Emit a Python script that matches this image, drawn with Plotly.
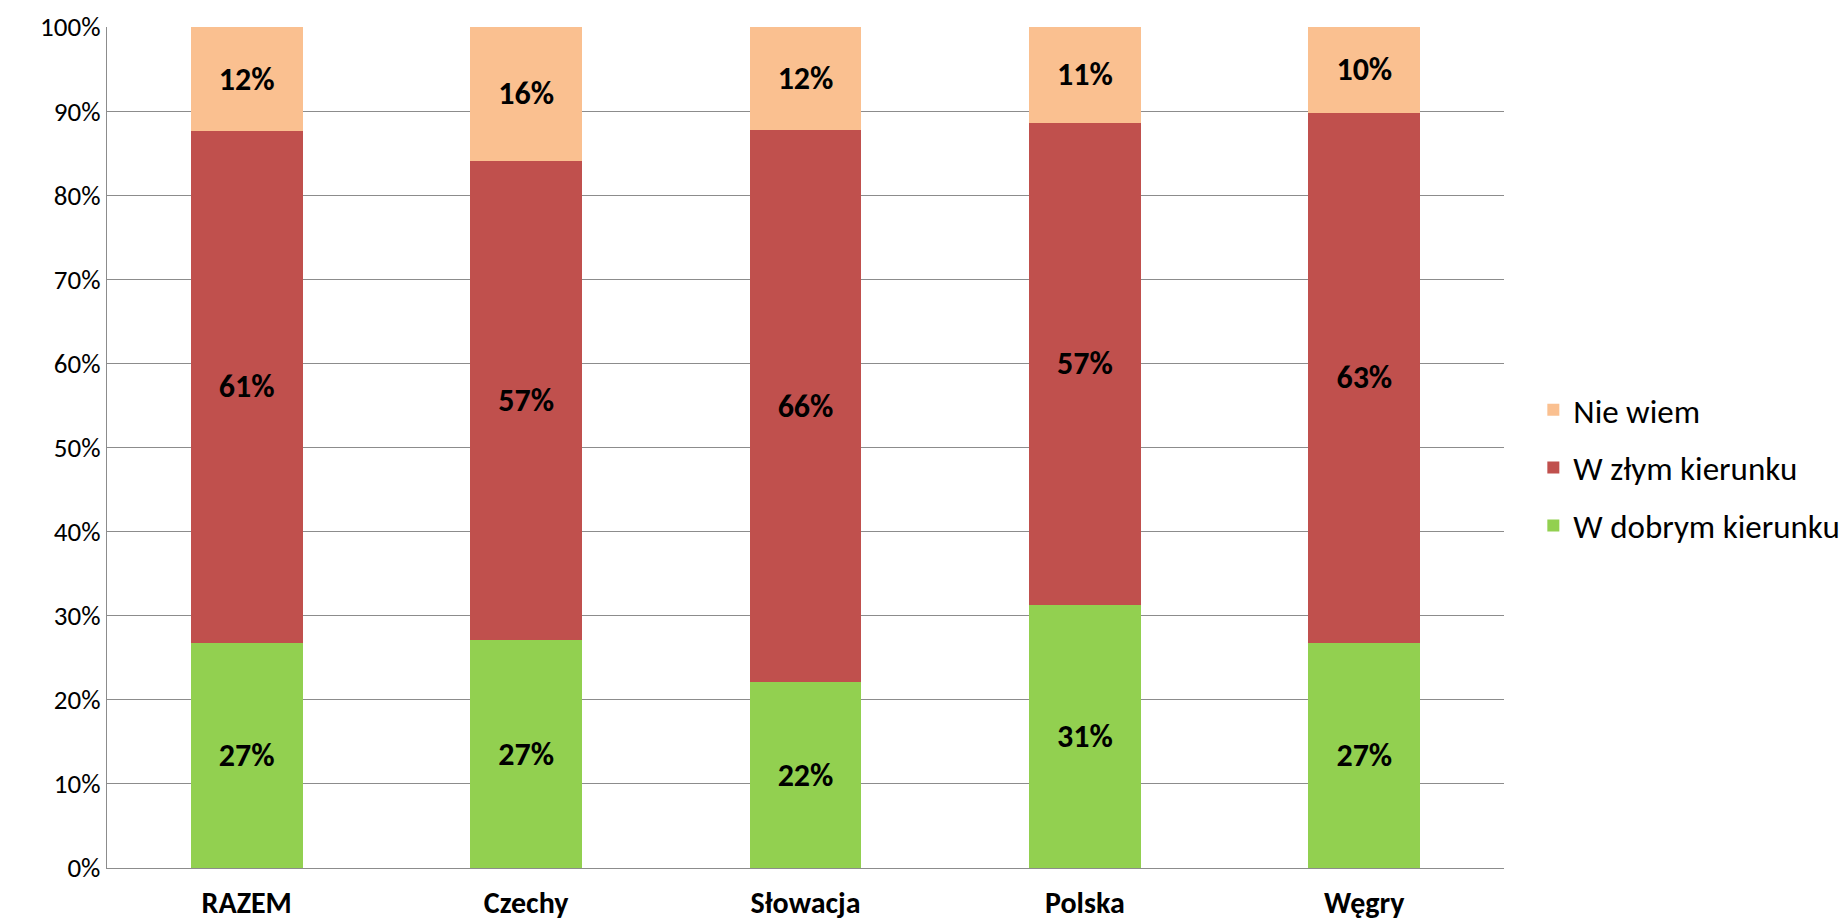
import plotly.graph_objects as go

categories = ["RAZEM", "Czechy", "Słowacja", "Polska", "Węgry"]
dobry = [26.8, 27.1, 22.1, 31.3, 26.8]
zly = [60.8, 57.0, 65.6, 57.3, 63.0]
nie_wiem = [12.4, 15.9, 12.3, 11.4, 10.2]
y_ticks = [0, 10, 20, 30, 40, 50, 60, 70, 80, 90, 100]
y_tick_labels = [f"{v}%" for v in y_ticks]

FONT = "Carlito, Lato, sans-serif"

series = [
    ("W dobrym kierunku", dobry, "#92D050"),
    ("W złym kierunku", zly, "#C0504D"),
    ("Nie wiem", nie_wiem, "#FAC090"),
]

fig = go.Figure()
for i, (name, vals, color) in enumerate(series):
    fig.add_trace(go.Bar(
        x=categories, y=vals, name=name, legendgroup=f"g{i}",
        legendrank=3 - i,
        marker=dict(color=color, line=dict(width=0)),
        texttemplate="%{y:.0f}%", textposition="inside",
        insidetextanchor="middle", textangle=0,
        textfont=dict(family=FONT, size=32, color="black", weight="bold"),
        hoverinfo="skip",
    ))

fig.update_layout(
    barmode="stack",
    bargap=0.6,
    width=1843, height=922,
    paper_bgcolor="white", plot_bgcolor="white",
    margin=dict(l=107, r=339, t=27, b=54, autoexpand=False),
    font=dict(family=FONT, size=27, color="black"),
    legend=dict(
        x=1.021, xanchor="left", y=0.476, yanchor="middle",
        traceorder="grouped", tracegroupgap=12,
        font=dict(family=FONT, size=33, color="black"),
        bgcolor="rgba(0,0,0,0)",
    ),
    showlegend=True,
)
fig.update_yaxes(
    range=[0, 100], tickvals=y_ticks, ticktext=y_tick_labels,
    showgrid=True, gridcolor="#8C8C8C", gridwidth=1.3,
    showline=True, linecolor="#8C8C8C", linewidth=1.3,
    ticks="", zeroline=False, automargin=False,
    tickfont=dict(family=FONT, size=27, color="black"),
)
fig.update_xaxes(
    showline=True, linecolor="#8C8C8C", linewidth=1.3,
    ticks="", automargin=False, ticklabelstandoff=8,
    tickfont=dict(family=FONT, size=30, color="black", weight="bold"),
)
fig.write_html(
    "out.html",
    config={"displayModeBar": False},
    post_script="document.body.style.margin='0';document.body.style.overflow='hidden';",
)
